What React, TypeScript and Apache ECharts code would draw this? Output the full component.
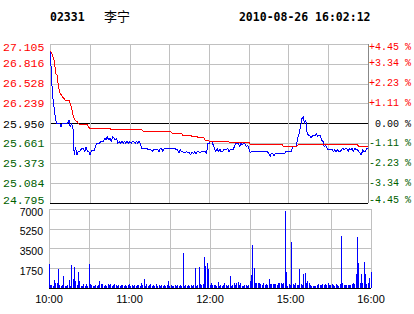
import React, { useEffect, useRef } from "react";
import * as echarts from "echarts";

const CODE = "02331";
const NAME = "李宁";
const STAMP = "2010-08-26 16:02:12";

const TIME_LABELS = ["10:00", "11:00", "12:00", "15:00", "16:00"];
const PRICE_LABELS = ["24.795", "25.084", "25.373", "25.661", "25.950", "26.239", "26.528", "26.816", "27.105"];
const PCT_LABELS = ["-4.45 %", "-3.34 %", "-2.23 %", "-1.11 %", "0.00 %", "+1.11 %", "+2.23 %", "+3.34 %", "+4.45 %"];
const VOL_LABELS = ["", "1750", "3500", "5250", "7000"];

const PRICE_MIN = 24.795;
const PRICE_MAX = 27.105;
const PRICE_STEP = 0.28875;
const VOL_MAX = 7000;
const VOL_STEP = 1750;
const MINUTES = 240;

const PRICE = [
  27.0, 26.55, 26.3, 26.15, 26.0, 25.95, 25.95, 25.95, 25.9, 25.95,
  25.95, 25.95, 25.95, 25.95, 26.0, 25.9, 25.95, 25.9, 25.49, 25.61,
  25.49, 25.54, 25.54, 25.57, 25.59, 25.59, 25.54, 25.61, 25.54, 25.54,
  25.49, 25.56, 25.56, 25.56, 25.61, 25.66, 25.66, 25.66, 25.69, 25.69,
  25.69, 25.74, 25.71, 25.76, 25.71, 25.74, 25.69, 25.76, 25.74, 25.71,
  25.74, 25.66, 25.69, 25.66, 25.69, 25.66, 25.69, 25.66, 25.69, 25.66,
  25.69, 25.66, 25.69, 25.69, 25.66, 25.69, 25.66, 25.69, 25.66, 25.59,
  25.59, 25.59, 25.59, 25.59, 25.57, 25.57, 25.57, 25.54, 25.57, 25.57,
  25.57, 25.57, 25.54, 25.59, 25.59, 25.54, 25.59, 25.59, 25.59, 25.59,
  25.59, 25.59, 25.59, 25.59, 25.59, 25.57, 25.57, 25.52, 25.57, 25.54,
  25.54, 25.53, 25.53, 25.54, 25.53, 25.53, 25.49, 25.54, 25.51, 25.54,
  25.51, 25.54, 25.54, 25.52, 25.54, 25.54, 25.54, 25.54, 25.51, 25.66,
  25.66, 25.69, 25.69, 25.64, 25.59, 25.54, 25.59, 25.54, 25.58, 25.54,
  25.54, 25.57, 25.57, 25.57, 25.59, 25.54, 25.57, 25.57, 25.57, 25.61,
  25.66, 25.66, 25.66, 25.61, 25.66, 25.64, 25.66, 25.66, 25.61, 25.64,
  25.59, 25.52, 25.54, 25.54, 25.54, 25.54, 25.54, 25.54, 25.54, 25.54,
  25.54, 25.54, 25.54, 25.54, 25.54, 25.52, 25.47, 25.52, 25.52, 25.48,
  25.51, 25.51, 25.51, 25.51, 25.51, 25.51, 25.51, 25.51, 25.54, 25.54,
  25.54, 25.54, 25.54, 25.61, 25.61, 25.61, 25.64, 25.74, 25.81, 25.9,
  26.02, 26.05, 25.95, 26.0, 25.81, 25.78, 25.78, 25.74, 25.77, 25.77,
  25.77, 25.81, 25.76, 25.78, 25.78, 25.71, 25.69, 25.61, 25.64, 25.59,
  25.57, 25.57, 25.57, 25.57, 25.54, 25.57, 25.54, 25.57, 25.54, 25.54,
  25.57, 25.59, 25.57, 25.59, 25.59, 25.54, 25.59, 25.57, 25.59, 25.54,
  25.59, 25.57, 25.57, 25.54, 25.52, 25.49, 25.57, 25.54, 25.54, 25.59,
  25.59,
];

const AVG = [
  27.0, 26.97, 26.92, 26.85, 26.68, 26.65, 26.5, 26.4, 26.37, 26.34,
  26.32, 26.29, 26.29, 26.29, 26.29, 26.24, 26.17, 26.08, 26.02, 25.99,
  25.98, 25.95, 25.94, 25.94, 25.94, 25.94, 25.94, 25.94, 25.94, 25.89,
  25.88, 25.88, 25.88, 25.88, 25.88, 25.88, 25.88, 25.88, 25.88, 25.88,
  25.88, 25.88, 25.88, 25.88, 25.88, 25.88, 25.86, 25.86, 25.86, 25.86,
  25.86, 25.86, 25.86, 25.86, 25.86, 25.86, 25.86, 25.86, 25.86, 25.86,
  25.86, 25.86, 25.86, 25.86, 25.86, 25.86, 25.86, 25.86, 25.86, 25.86,
  25.84, 25.84, 25.84, 25.84, 25.84, 25.84, 25.83, 25.83, 25.83, 25.83,
  25.83, 25.83, 25.83, 25.83, 25.83, 25.83, 25.83, 25.83, 25.83, 25.83,
  25.83, 25.83, 25.81, 25.81, 25.81, 25.81, 25.81, 25.81, 25.81, 25.81,
  25.78, 25.78, 25.78, 25.78, 25.78, 25.78, 25.78, 25.76, 25.76, 25.76,
  25.76, 25.76, 25.74, 25.74, 25.74, 25.74, 25.74, 25.71, 25.71, 25.71,
  25.69, 25.69, 25.69, 25.69, 25.69, 25.69, 25.69, 25.69, 25.69, 25.69,
  25.69, 25.69, 25.69, 25.69, 25.69, 25.68, 25.68, 25.68, 25.68, 25.68,
  25.68, 25.68, 25.68, 25.68, 25.68, 25.68, 25.68, 25.68, 25.68, 25.68,
  25.68, 25.65, 25.65, 25.65, 25.65, 25.65, 25.65, 25.65, 25.65, 25.65,
  25.65, 25.65, 25.65, 25.65, 25.65, 25.65, 25.65, 25.65, 25.65, 25.65,
  25.65, 25.65, 25.65, 25.65, 25.65, 25.65, 25.61, 25.61, 25.61, 25.61,
  25.61, 25.61, 25.61, 25.61, 25.61, 25.61, 25.61, 25.64, 25.64, 25.64,
  25.64, 25.64, 25.64, 25.64, 25.64, 25.64, 25.64, 25.64, 25.64, 25.64,
  25.64, 25.64, 25.64, 25.64, 25.64, 25.64, 25.64, 25.64, 25.64, 25.64,
  25.64, 25.64, 25.64, 25.64, 25.64, 25.64, 25.64, 25.64, 25.64, 25.64,
  25.64, 25.64, 25.64, 25.64, 25.64, 25.64, 25.64, 25.64, 25.64, 25.64,
  25.64, 25.64, 25.64, 25.62, 25.62, 25.62, 25.62, 25.62, 25.62, 25.62,
  25.62,
];

const VOLUME = [
  2100, 300, 300, 200, 700, 400, 450, 1700, 250, 200,
  250, 1050, 200, 200, 300, 700, 200, 2050, 800, 1900,
  650, 300, 1450, 650, 200, 200, 350, 200, 350, 200,
  2100, 350, 270, 200, 200, 270, 200, 270, 650, 350,
  350, 200, 270, 200, 350, 270, 350, 200, 270, 380,
  270, 200, 270, 200, 270, 270, 200, 270, 200, 270,
  330, 200, 270, 200, 270, 200, 270, 270, 200, 450,
  270, 800, 200, 330, 200, 270, 380, 200, 270, 200,
  330, 200, 270, 200, 270, 200, 270, 200, 270, 650,
  200, 270, 200, 200, 270, 200, 270, 200, 270, 200,
  3100, 200, 270, 200, 270, 200, 270, 200, 270, 1800,
  200, 270, 1900, 330, 270, 330, 2780, 1980, 2210, 1690,
  270, 450, 270, 270, 270, 200, 550, 200, 270, 200,
  270, 400, 270, 200, 270, 1090, 200, 270, 400, 270,
  470, 500, 270, 400, 200, 200, 270, 270, 200, 270,
  650, 1150, 3800, 1800, 400, 400, 400, 400, 330, 270,
  400, 270, 330, 270, 800, 330, 330, 330, 330, 330,
  270, 400, 400, 400, 330, 450, 6800, 1450, 200, 330,
  270, 4100, 330, 270, 400, 270, 270, 1700, 330, 270,
  1200, 1300, 450, 650, 400, 270, 200, 200, 200, 200,
  270, 330, 270, 270, 330, 270, 330, 270, 400, 270,
  270, 330, 270, 200, 330, 270, 200, 330, 4600, 400,
  270, 270, 270, 270, 270, 270, 330, 450, 330, 1200,
  4500, 2200, 450, 1250, 450, 2300, 1200, 330, 450, 900,
  1450,
];

const RED = "#ff0000";
const GREEN = "#006000";
const BLACK = "#000000";
const BLUE = "#0000ff";
const GRID_GRAY = "#c0c0c0";

const priceIndex = (v: number) => Math.round((v - PRICE_MIN) / PRICE_STEP);

export default function App() {
  const ref = useRef<HTMLDivElement>(null);

  useEffect(() => {
    if (!ref.current) return;
    const chart = echarts.init(ref.current, null, { renderer: "svg" });

    const leftFont = { fontFamily: "Liberation Mono", fontSize: 11.5 };
    const rightFont = { fontFamily: "Liberation Mono", fontSize: 10 };

    const option: any = {
      animation: false,
      backgroundColor: "#ffffff",
      graphic: [
        {
          type: "text",
          x: 50,
          y: 17,
          style: {
            text: CODE,
            fill: BLACK,
            fontFamily: "DejaVu Sans Mono",
            fontWeight: "bold",
            fontSize: 11.5,
            verticalAlign: "middle",
          },
        },
        {
          type: "text",
          x: 104,
          y: 15.5,
          style: {
            text: NAME,
            fill: BLACK,
            fontFamily: "Noto Sans CJK SC",
            fontSize: 13,
            verticalAlign: "middle",
          },
        },
        {
          type: "text",
          x: 370.5,
          y: 17,
          style: {
            text: STAMP,
            fill: BLACK,
            fontFamily: "DejaVu Sans Mono",
            fontWeight: "bold",
            fontSize: 11.5,
            align: "right",
            verticalAlign: "middle",
          },
        },
      ],
      grid: [
        { left: 49, top: 44, width: 322, height: 159 },
        { left: 49, top: 209, width: 322, height: 79 },
      ],
      xAxis: [
        {
          gridIndex: 0,
          type: "value",
          min: 0,
          max: MINUTES,
          interval: 30,
          axisLine: { show: false },
          axisTick: { show: false },
          axisLabel: { show: false },
          splitLine: { show: true, lineStyle: { color: GRID_GRAY, width: 1 } },
        },
        {
          gridIndex: 1,
          type: "value",
          min: 0,
          max: MINUTES,
          interval: 30,
          axisLine: { show: false },
          axisTick: { show: false },
          axisLabel: {
            show: true,
            margin: 5,
            color: BLACK,
            fontFamily: "Liberation Sans",
            fontSize: 11,
            formatter: (v: number) => (v % 60 === 0 ? TIME_LABELS[v / 60] : ""),
          },
          splitLine: { show: true, lineStyle: { color: GRID_GRAY, width: 1 } },
        },
      ],
      yAxis: [
        {
          gridIndex: 0,
          type: "value",
          position: "left",
          min: PRICE_MIN,
          max: PRICE_MAX,
          interval: PRICE_STEP,
          axisLine: { show: false },
          axisTick: { show: false },
          axisLabel: {
            margin: 6,
            formatter: (v: number) => {
              const i = priceIndex(v);
              const t = PRICE_LABELS[i];
              if (i === 8) return `{rt|${t}}`;
              if (i > 4) return `{r|${t}}`;
              if (i === 4) return `{k|${t}}`;
              if (i === 0) return `{gb|${t}}`;
              return `{g|${t}}`;
            },
            rich: {
              r: { ...leftFont, color: RED },
              rt: { ...leftFont, color: RED, padding: [6, 0, 0, 0] },
              k: { ...leftFont, color: BLACK, padding: [2, 0, 0, 0] },
              g: { ...leftFont, color: GREEN },
              gb: { ...leftFont, color: GREEN, padding: [0, 0, 6, 0] },
            },
          },
          splitLine: {
            show: true,
            lineStyle: {
              width: 1,
              color: [BLACK, GRID_GRAY, GRID_GRAY, GRID_GRAY, BLACK, GRID_GRAY, GRID_GRAY, GRID_GRAY, GRID_GRAY],
            },
          },
        },
        {
          gridIndex: 0,
          type: "value",
          position: "right",
          min: PRICE_MIN,
          max: PRICE_MAX,
          interval: PRICE_STEP,
          axisLine: { show: true, lineStyle: { color: "#888888", width: 1 } },
          axisTick: { show: false },
          splitLine: { show: false },
          axisLabel: {
            margin: 1,
            align: "left",
            formatter: (v: number) => {
              const i = priceIndex(v);
              const t = PCT_LABELS[i];
              if (i === 8) return `{rt|${t}}`;
              if (i > 4) return `{r|${t}}`;
              if (i === 4) return `{k|${t}}`;
              if (i === 0) return `{gb|${t}}`;
              return `{g|${t}}`;
            },
            rich: {
              r: { ...rightFont, color: RED },
              rt: { ...rightFont, color: RED, padding: [6, 0, 0, 0] },
              k: { ...rightFont, color: BLACK, padding: [2, 0, 0, 6] },
              g: { ...rightFont, color: GREEN },
              gb: { ...rightFont, color: GREEN, padding: [0, 0, 6, 0] },
            },
          },
        },
        {
          gridIndex: 1,
          type: "value",
          position: "left",
          min: 0,
          max: VOL_MAX,
          interval: VOL_STEP,
          axisLine: { show: false },
          axisTick: { show: false },
          axisLabel: {
            margin: 6,
            formatter: (v: number) => {
              const t = VOL_LABELS[Math.round(v / VOL_STEP)];
              return t ? `{v|${t}}` : "";
            },
            rich: {
              v: { fontFamily: "Liberation Sans", fontSize: 10.5, color: BLACK, padding: [5, 0, 0, 0] },
            },
          },
          splitLine: {
            show: true,
            lineStyle: { width: 1, color: [BLACK, GRID_GRAY, GRID_GRAY, GRID_GRAY, GRID_GRAY] },
          },
        },
      ],
      series: [
        {
          type: "line",
          xAxisIndex: 0,
          yAxisIndex: 0,
          data: PRICE.map((p, i) => [i, p]),
          showSymbol: false,
          symbol: "none",
          lineStyle: { color: BLUE, width: 1 },
          itemStyle: { color: BLUE },
          z: 3,
        },
        {
          type: "line",
          xAxisIndex: 0,
          yAxisIndex: 0,
          data: AVG.map((p, i) => [i, p]),
          showSymbol: false,
          symbol: "none",
          lineStyle: { color: RED, width: 1 },
          itemStyle: { color: RED },
          z: 4,
        },
        {
          type: "bar",
          xAxisIndex: 1,
          yAxisIndex: 2,
          data: VOLUME.map((v, i) => [i, v]),
          barWidth: 1,
          itemStyle: { color: BLUE },
          z: 3,
        },
      ],
    };

    chart.setOption(option);
    return () => chart.dispose();
  }, []);

  return (
    <>
      <style>{`.kchart svg path { shape-rendering: crispEdges; }`}</style>
      <div
        ref={ref}
        className="kchart"
        style={{ position: "absolute", left: 0, top: 0, width: 414, height: 314, background: "#fff" }}
      />
    </>
  );
}
